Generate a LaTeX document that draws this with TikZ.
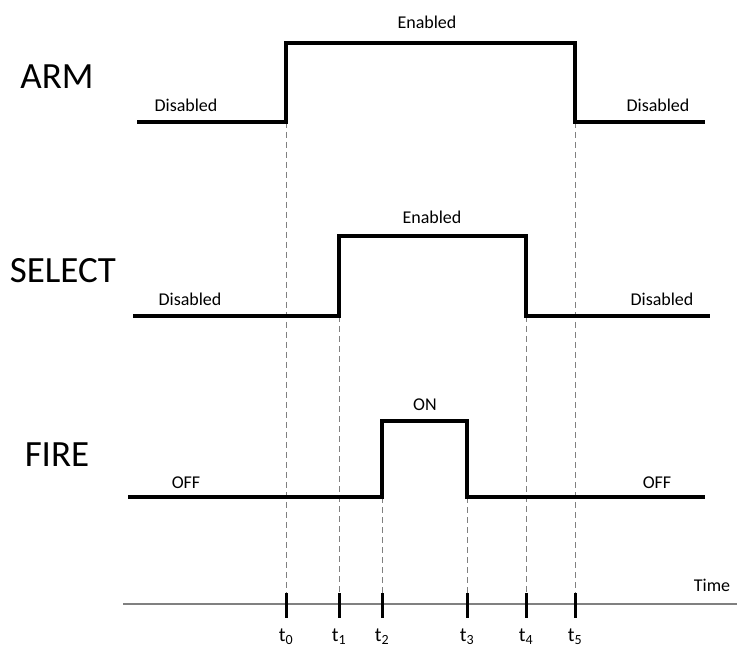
\documentclass[tikz,border=0pt]{standalone}
\usepackage{fontspec}
\setmainfont{Carlito}
\begin{document}
\begin{tikzpicture}[x=1pt, y=-1pt,
  every node/.style={font=\fontsize{18}{20}\selectfont},
  signal/.style={line width=3.2pt},
  guide/.style={gray, line width=0.8pt, dash pattern=on 6pt off 4pt},
  tickmark/.style={line width=3pt},
  bigname/.style={font=\fontsize{37}{40}\selectfont}]
  \useasboundingbox (0,0) rectangle (737,655);

  % time axis
  \coordinate (axisL) at (123,604);
  \coordinate (axisR) at (737,604);
  \coordinate (t0) at (286,604);
  \coordinate (t1) at (339,604);
  \coordinate (t2) at (382,604);
  \coordinate (t3) at (467,604);
  \coordinate (t4) at (526,604);
  \coordinate (t5) at (575,604);

  % edges of the signals
  \coordinate (armUp) at (286,122);
  \coordinate (armDn) at (575,122);
  \coordinate (selUp) at (339,316);
  \coordinate (selDn) at (526,316);
  \coordinate (fireUp) at (382,497);
  \coordinate (fireDn) at (467,497);

  \draw[guide] (armUp) -- (t0);
  \draw[guide] (selUp) -- (t1);
  \draw[guide] (fireUp) -- (t2);
  \draw[guide] (fireDn) -- (t3);
  \draw[guide] (selDn) -- (t4);
  \draw[guide] (armDn) -- (t5);

  \draw[gray, line width=1.4pt] (axisL) -- (axisR);
  \foreach \t in {0,...,5} {
    \draw[tickmark] (t\t) ++(0,-11) -- ++(0,25);
    \node (lab\t) [yshift=-33pt] at (t\t) {\fontsize{20}{22}\selectfont t\textsubscript{\t}};
  }
  \node (time) at (712,585) {Time};

  % ARM
  \draw[signal] (137,122) -- (armUp) -- (286,43) -- (575,43) -- (armDn) -- (705,122);
  \node[bigname] (arm) at (57,77) {ARM};
  \node (armOffL) at (186,105) {Disabled};
  \node (armOn) at (427,22) {Enabled};
  \node (armOffR) at (658,105) {Disabled};

  % SELECT
  \draw[signal] (133,316) -- (selUp) -- (339,236) -- (526,236) -- (selDn) -- (710,316);
  \node[bigname] (select) at (63,271) {SELECT};
  \node (selOffL) at (190,299) {Disabled};
  \node (selOn) at (432,217) {Enabled};
  \node (selOffR) at (662,299) {Disabled};

  % FIRE
  \draw[signal] (128,497) -- (fireUp) -- (382,421) -- (467,421) -- (fireDn) -- (705,497);
  \node[bigname] (fire) at (57,455) {FIRE};
  \node (fireOffL) at (186,483) {OFF};
  \node (fireOn) at (425,405) {ON};
  \node (fireOffR) at (657,483) {OFF};
\end{tikzpicture}
\end{document}
